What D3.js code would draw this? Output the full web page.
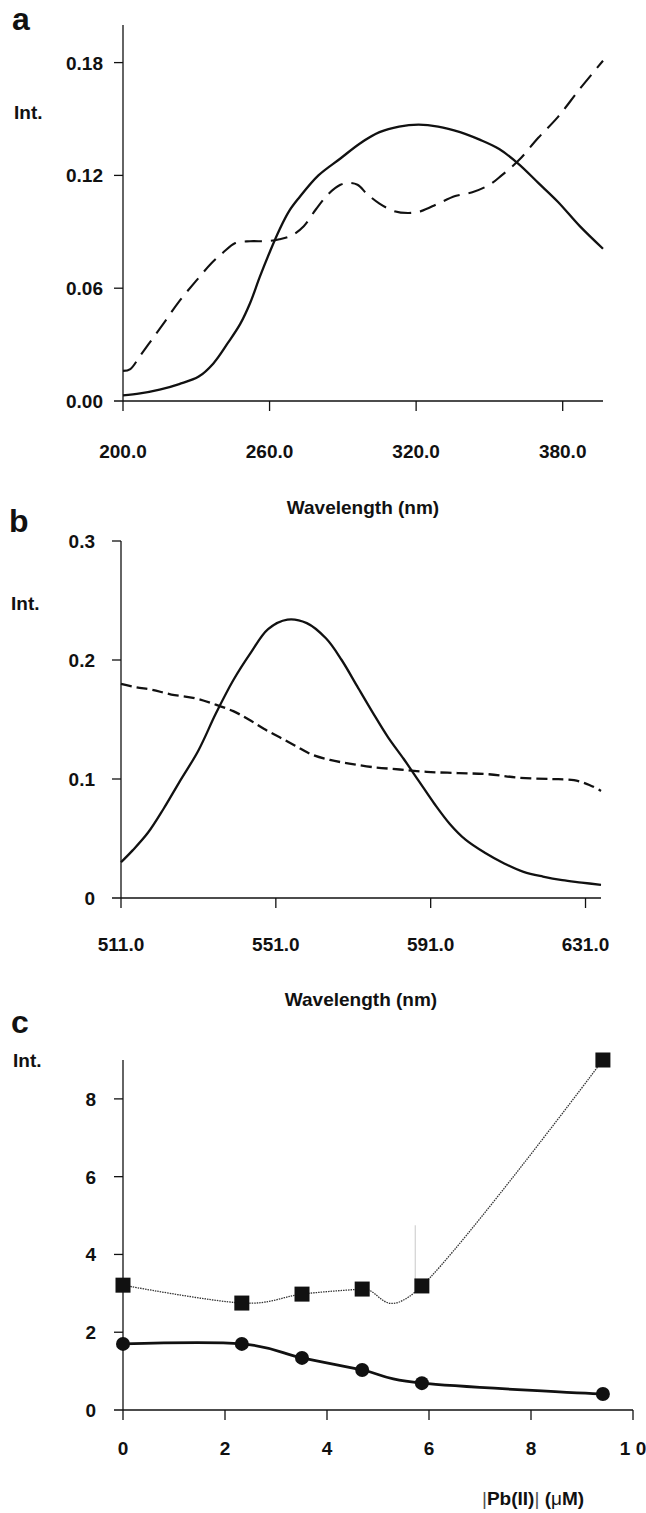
<!DOCTYPE html>
<html><head><meta charset="utf-8">
<script src="https://cdn.jsdelivr.net/npm/d3@7/dist/d3.min.js"></script>
<style>body{margin:0;background:#fff}svg{display:block}text{font-family:"Liberation Sans",Arial,sans-serif;font-weight:bold;fill:#111}</style>
</head><body>
<svg id="c" width="646" height="1513"></svg>
<script>
// ---------- Panel a ----------
const aSolidX = [200,207,215,223,231,237,243,248,252,256,260,264,268,272,280,289,297,305,313,321,329,338,346,354,362,370,378,387,396.5];
const aSolidY = [0.003,0.004,0.006,0.009,0.013,0.020,0.031,0.041,0.052,0.066,0.079,0.091,0.101,0.108,0.120,0.129,0.137,0.143,0.146,0.147,0.146,0.143,0.139,0.134,0.126,0.116,0.106,0.093,0.081];
const aDashX = [200,203,207,212,217,223,230,236,241,246,252,259,264,269,274,279,284,289,292,296,300,305,311,317,322,329,336,343,350,355,362,370,378,387,396.5];
const aDashY = [0.016,0.017,0.024,0.033,0.042,0.053,0.064,0.073,0.079,0.084,0.085,0.085,0.086,0.088,0.093,0.102,0.110,0.115,0.116,0.115,0.110,0.105,0.101,0.100,0.101,0.105,0.109,0.111,0.115,0.120,0.128,0.140,0.151,0.166,0.181];
const aXTicks = [200,260,320,380];
const aYTicks = [0,0.06,0.12,0.18];

// ---------- Panel b ----------
const bSolidX = [511,514,518,522,526,531,535.5,540,544.5,549,554,559,564,568,572,576,580,584,588,592,596,600,605,610,615,620,625,630,635];
const bSolidY = [0.030,0.040,0.055,0.075,0.097,0.124,0.155,0.183,0.206,0.226,0.234,0.231,0.218,0.200,0.178,0.156,0.135,0.117,0.098,0.079,0.062,0.049,0.038,0.029,0.022,0.018,0.015,0.013,0.011];
const bDashX = [511,515,519,524,530,535,540,544,548,552,556,560,565,570,576,583,590,598,606,614,622,628,632,635];
const bDashY = [0.180,0.177,0.175,0.171,0.168,0.163,0.157,0.150,0.142,0.135,0.128,0.121,0.116,0.113,0.110,0.108,0.106,0.105,0.104,0.101,0.100,0.099,0.095,0.090];
const bXTicks = [511,551,591,631];
const bYTicks = [0,0.1,0.2,0.3];

// ---------- Panel c ----------
const cConc = [0,2.33,3.51,4.69,5.86,9.41];
const cCircles = [1.70,1.70,1.34,1.03,0.69,0.41];
const cSquares = [3.21,2.75,2.98,3.11,3.19,9.0];
const cXTicks = [0,2,4,6,8,10];
const cXLabels = ["0","2","4","6","8","1 0"];
const cYTicks = [0,2,4,6,8];

const svg = d3.select("#c");
const INK = "#111";

function axes(g, x, y, xTicks, xFmt, yTicks, yFmt, opt){
  const [x0,x1] = x.range(), [yb,yt] = y.range();
  g.append("line").attr("x1",x0).attr("x2",x0).attr("y1",yt).attr("y2",yb).attr("stroke",INK).attr("stroke-width",1.3);
  g.append("line").attr("x1",x0-9).attr("x2",x1).attr("y1",yb).attr("y2",yb).attr("stroke",INK).attr("stroke-width",1.3);
  yTicks.forEach((t,i)=>{
    const yy = y(t);
    if (t!==0) g.append("line").attr("x1",x0-9).attr("x2",x0).attr("y1",yy).attr("y2",yy).attr("stroke",INK).attr("stroke-width",1.3);
    g.append("text").attr("x",x0-opt.labelDx).attr("y",yy+7).attr("text-anchor","end").attr("font-size",19).text(yFmt(t,i));
  });
  xTicks.forEach((t,i)=>{
    const xx = x(t);
    g.append("line").attr("x1",xx).attr("x2",xx).attr("y1",yb).attr("y2",yb+10).attr("stroke",INK).attr("stroke-width",1.3);
    g.append("text").attr("x",xx).attr("y",yb+opt.labelDy).attr("text-anchor","middle").attr("font-size",19).text(xFmt(t,i));
  });
}

function path(g, xs, ys, x, y, curve, attrs){
  const pts = xs.map((v,i)=>[x(v), y(ys[i])]);
  const p = g.append("path").attr("d", d3.line().curve(curve)(pts)).attr("fill","none");
  Object.entries(attrs).forEach(([k,v])=>p.attr(k,v));
}

// Panel a
{
  const g = svg.append("g");
  const x = d3.scaleLinear().domain([200,396.5]).range([123,603]);
  const y = d3.scaleLinear().domain([0,0.2]).range([401,25]);
  axes(g,x,y,aXTicks,t=>t.toFixed(1),aYTicks,t=>t.toFixed(2),{labelDy:57,labelDx:20});
  path(g,aSolidX,aSolidY,x,y,d3.curveCatmullRom,{stroke:INK,"stroke-width":2.3});
  path(g,aDashX,aDashY,x,y,d3.curveCatmullRom,{stroke:INK,"stroke-width":2.1,"stroke-dasharray":"17,9"});
  g.append("text").attr("x",12).attr("y",30).attr("font-size",32).text("a");
  g.append("text").attr("x",14).attr("y",119).attr("font-size",19).text("Int.");
  g.append("text").attr("x",363).attr("y",514).attr("text-anchor","middle").attr("font-size",19).text("Wavelength (nm)");
}

// Panel b
{
  const g = svg.append("g");
  const x = d3.scaleLinear().domain([511,635]).range([121,601]);
  const y = d3.scaleLinear().domain([0,0.3]).range([898,541]);
  axes(g,x,y,bXTicks,t=>t.toFixed(1),bYTicks,t=>t===0?"0":t.toFixed(1),{labelDy:53,labelDx:26});
  path(g,bSolidX,bSolidY,x,y,d3.curveCatmullRom,{stroke:INK,"stroke-width":2.3});
  path(g,bDashX,bDashY,x,y,d3.curveCatmullRom,{stroke:INK,"stroke-width":2.3,"stroke-dasharray":"11,5"});
  g.append("text").attr("x",9).attr("y",532).attr("font-size",32).text("b");
  g.append("text").attr("x",11).attr("y",610).attr("font-size",19).text("Int.");
  g.append("text").attr("x",361).attr("y",1006).attr("text-anchor","middle").attr("font-size",19).text("Wavelength (nm)");
}

// Panel c
{
  const g = svg.append("g");
  const x = d3.scaleLinear().domain([0,10]).range([123,633]);
  const y = d3.scaleLinear().domain([0,9]).range([1410,1060]);
  axes(g,x,y,cXTicks,(t,i)=>cXLabels[i],cYTicks,t=>String(t),{labelDy:45,labelDx:27});
  g.append("line").attr("x1",x(5.73)).attr("x2",x(5.73)).attr("y1",y(4.75)).attr("y2",y(3.35)).attr("stroke","#c8c8c8").attr("stroke-width",1);
  path(g,cConc,cSquares,x,y,d3.curveCardinal,{stroke:"#333","stroke-width":1.3,"stroke-dasharray":"1.5,1"});
  path(g,cConc,cCircles,x,y,d3.curveCardinal,{stroke:INK,"stroke-width":2.8});
  g.selectAll("rect.sq").data(cConc).enter().append("rect")
    .attr("x",(d)=>x(d)-7.5).attr("y",(d,i)=>y(cSquares[i])-7.5).attr("width",15).attr("height",15).attr("fill",INK);
  g.selectAll("circle.ci").data(cConc).enter().append("circle")
    .attr("cx",d=>x(d)).attr("cy",(d,i)=>y(cCircles[i])).attr("r",7).attr("fill",INK);
  g.append("text").attr("x",11).attr("y",1033).attr("font-size",32).text("c");
  g.append("text").attr("x",13).attr("y",1067).attr("font-size",19).text("Int.");
  const t = g.append("text").attr("x",482).attr("y",1505).attr("font-size",19);
  t.append("tspan").attr("font-weight","normal").attr("fill","#555").text("|");
  t.append("tspan").text("Pb(II)");
  t.append("tspan").attr("font-weight","normal").attr("fill","#555").text("|");
  t.append("tspan").text("  (");
  t.append("tspan").attr("font-weight","normal").text("μ");
  t.append("tspan").text("M)");
}
</script>
</body></html>
